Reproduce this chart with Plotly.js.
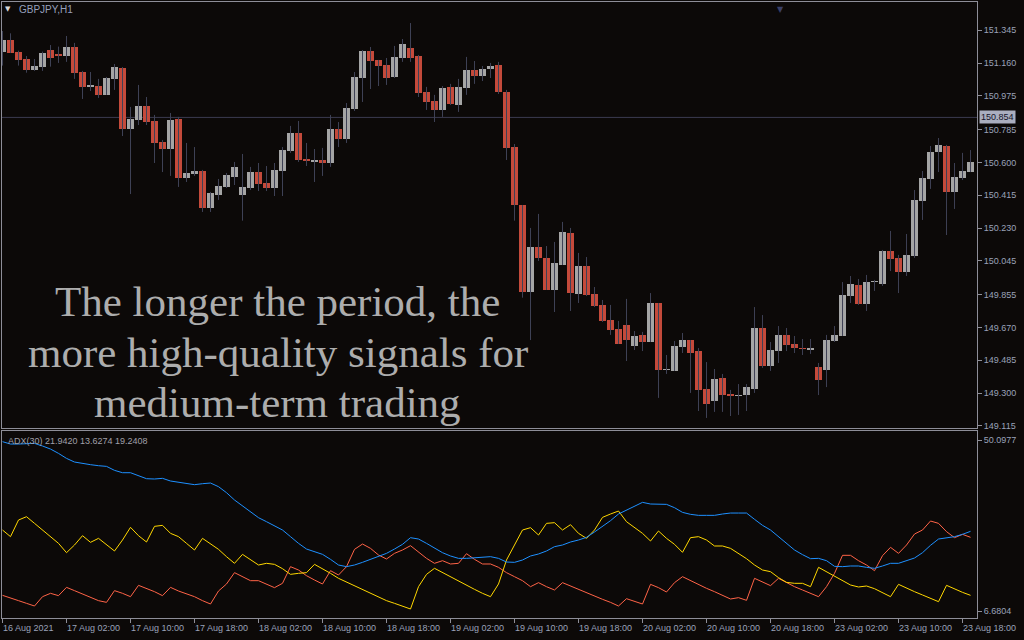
<!DOCTYPE html>
<html>
<head>
<meta charset="utf-8">
<script src="https://cdn.plot.ly/plotly-3.0.1.min.js"></script>
<style>
  html, body { margin: 0; padding: 0; background: #0c0908; }
  #chart { width: 1024px; height: 640px; }
</style>
</head>
<body>
<div id="chart"></div>
<script>
// ---------- Data (GBPJPY, H1, hourly bars from 16 Aug 2021 18:00) ----------
const symbolTitle = "GBPJPY,H1";

const open = [151.225,151.290,151.225,151.183,151.121,151.138,151.234,151.212,151.200,151.251,
151.110,151.028,151.031,150.981,151.071,151.133,150.789,150.840,150.918,150.834,
150.716,150.676,150.845,150.513,150.535,150.552,150.344,150.417,150.462,150.518,
150.417,150.456,150.546,150.484,150.456,150.552,150.665,150.766,150.620,150.603,
150.614,150.597,150.789,150.732,150.902,151.076,151.228,151.178,151.150,151.082,
151.189,151.245,151.200,150.997,150.947,150.896,151.026,150.924,151.020,151.121,
151.088,151.127,151.150,150.997,150.687,150.360,149.872,150.124,150.062,149.881,
150.022,150.203,149.859,150.017,149.859,149.797,149.712,149.661,149.684,149.566,
149.628,149.588,149.808,149.428,149.425,149.560,149.599,149.537,149.323,149.256,
149.385,149.295,149.284,149.289,149.323,149.667,149.453,149.537,149.628,149.577,
149.554,149.543,149.447,149.430,149.594,149.622,149.847,149.910,149.802,149.924,
149.915,150.101,150.062,149.983,150.073,150.383,150.507,150.659,150.693,150.434,
150.513,150.546];

const high = [151.341,151.328,151.230,151.200,151.183,151.225,151.262,151.253,151.313,151.274,
151.116,151.110,151.071,151.082,151.155,151.138,150.913,151.037,150.969,150.868,
150.727,150.879,150.857,150.710,150.687,150.558,150.434,150.507,150.541,150.603,
150.648,150.575,150.597,150.580,150.597,150.687,150.806,150.834,150.710,150.676,
150.682,150.868,150.828,150.935,151.110,151.234,151.251,151.178,151.189,151.257,
151.296,151.386,151.206,151.026,150.981,151.031,151.043,151.071,151.195,151.172,
151.144,151.161,151.167,151.009,150.704,150.360,150.231,150.310,150.129,150.152,
150.265,150.231,150.090,150.067,149.898,149.825,149.797,149.707,149.831,149.650,
149.645,149.864,149.808,149.515,149.594,149.639,149.599,149.554,149.475,149.436,
149.408,149.318,149.351,149.351,149.785,149.740,149.588,149.678,149.667,149.622,
149.605,149.605,149.470,149.628,149.678,149.926,149.960,149.943,149.966,149.938,
150.107,150.214,150.079,150.197,150.445,150.552,150.693,150.738,150.699,150.597,
150.654,150.670];

const low = [151.146,151.217,151.146,151.106,151.116,151.116,151.140,151.161,151.167,151.071,
150.958,151.003,150.964,150.981,151.009,150.749,150.422,150.811,150.811,150.597,
150.546,150.524,150.462,150.490,150.524,150.321,150.321,150.389,150.456,150.473,
150.272,150.445,150.439,150.439,150.411,150.411,150.654,150.603,150.580,150.490,
150.524,150.575,150.687,150.710,150.890,150.941,151.014,151.031,151.037,151.076,
151.167,151.167,150.969,150.896,150.828,150.857,150.924,150.885,150.981,151.043,
151.059,151.076,150.986,150.614,150.272,149.838,149.599,150.045,149.881,149.757,
150.022,149.763,149.808,149.847,149.785,149.701,149.628,149.577,149.481,149.543,
149.537,149.588,149.273,149.408,149.425,149.526,149.301,149.199,149.160,149.194,
149.194,149.171,149.177,149.199,149.301,149.442,149.425,149.470,149.537,149.526,
149.515,149.521,149.289,149.334,149.588,149.622,149.808,149.797,149.763,149.876,
149.904,149.988,149.864,149.960,150.062,150.276,150.451,150.546,150.191,150.338,
150.501,150.546];

const close = [151.290,151.219,151.178,151.121,151.144,151.217,151.189,151.200,151.251,151.105,
151.026,151.031,150.981,151.076,151.138,150.789,150.845,150.918,150.828,150.710,
150.676,150.840,150.513,150.541,150.552,150.344,150.428,150.468,150.530,150.575,
150.462,150.546,150.479,150.456,150.558,150.670,150.766,150.614,150.608,150.614,
150.597,150.789,150.732,150.907,151.082,151.228,151.172,151.144,151.076,151.195,
151.268,151.189,150.992,150.941,150.896,151.020,150.930,151.026,151.121,151.088,
151.127,151.144,150.997,150.682,150.360,149.872,150.124,150.063,149.881,150.034,
150.208,149.864,150.017,149.853,149.791,149.707,149.656,149.577,149.599,149.622,
149.588,149.808,149.430,149.431,149.566,149.599,149.526,149.318,149.239,149.380,
149.289,149.284,149.289,149.334,149.667,149.453,149.543,149.628,149.571,149.554,
149.549,149.554,149.374,149.599,149.628,149.853,149.915,149.802,149.926,149.926,
150.101,150.056,149.983,150.079,150.389,150.513,150.659,150.699,150.434,150.518,
150.552,150.603];

// ADX(30) indicator lines
const adx = [49.68,49.08,49.08,49.25,49.25,48.58,47.81,46.71,45.44,44.51,
44.09,43.84,43.58,43.41,42.40,41.80,41.80,40.96,40.28,40.20,
40.37,39.69,39.35,39.01,38.76,39.01,39.18,38.25,36.73,34.87,
33.34,31.90,30.38,29.36,28.35,27.25,25.56,23.86,22.42,21.75,
21.07,19.80,18.36,17.94,18.36,19.04,19.80,20.65,21.32,22.42,
23.61,25.30,24.96,23.86,22.59,21.49,20.65,20.05,20.05,20.22,
20.31,20.48,20.05,19.12,19.04,19.63,20.65,21.16,21.92,23.02,
23.44,24.20,24.71,25.39,26.74,28.09,29.62,31.31,32.33,33.17,
34.27,33.85,33.85,33.76,32.92,31.73,31.23,30.97,30.97,30.97,
31.31,31.56,31.56,31.56,29.96,28.43,27.25,25.56,23.69,22.17,
20.99,19.97,20.05,19.46,18.02,17.94,18.11,18.11,17.77,17.52,
18.11,18.79,18.79,19.38,20.14,21.49,23.36,24.96,25.30,25.56,
26.15,26.91];

const diPlus = [27.25,25.56,29.79,30.63,28.94,27.25,25.56,23.86,21.49,23.44,
25.81,24.12,25.13,23.44,21.92,24.71,27.93,25.81,24.20,28.18,
28.43,26.40,25.56,23.86,22.17,25.13,23.69,22.34,20.48,18.79,
21.07,19.63,18.36,18.79,18.53,17.43,15.99,16.25,16.42,18.53,
17.43,16.25,14.98,14.05,13.12,12.18,11.25,10.32,9.31,8.63,
7.95,7.19,12.86,15.99,17.52,16.42,15.40,14.30,13.20,12.18,
11.17,10.32,13.54,19.63,23.44,27.25,27.84,25.98,28.94,29.11,
27.25,28.60,26.40,25.13,27.25,30.46,31.31,32.07,29.36,27.84,
26.40,24.46,26.99,25.13,23.61,21.58,25.30,25.56,24.71,23.19,
23.19,22.59,21.32,19.97,18.36,17.09,16.67,15.15,13.96,13.71,
13.71,12.86,17.77,16.67,15.57,14.38,13.28,12.78,13.03,12.35,
11.34,10.32,13.45,12.44,11.59,10.75,9.90,9.05,13.20,12.27,
11.42,10.66];

const diMinus = [10.66,10.07,9.31,8.63,7.95,10.32,11.17,10.58,12.69,11.85,
11.00,10.07,9.31,8.88,11.85,11.17,10.32,13.20,12.44,11.59,
10.58,12.69,11.76,11.00,10.32,9.31,8.46,11.76,13.54,16.42,
15.40,14.38,14.38,13.54,12.61,13.71,17.94,17.09,15.65,14.55,
13.54,16.92,15.82,17.94,22.34,23.69,22.59,20.90,19.89,21.32,
22.17,23.27,21.75,20.05,18.79,19.46,18.62,18.79,21.24,19.80,
18.62,18.62,17.77,16.42,15.40,14.38,12.86,13.88,12.86,12.02,
13.88,13.03,12.02,11.17,10.32,9.65,8.88,7.95,9.81,9.22,
8.46,13.45,12.61,11.51,13.88,15.40,14.38,13.28,12.44,11.59,
10.58,9.73,10.07,9.39,14.98,14.13,13.12,14.98,13.88,12.86,
12.02,11.17,10.32,12.86,16.25,20.82,20.82,19.46,18.36,16.92,
20.73,22.85,21.32,23.44,26.23,27.25,29.53,28.94,26.83,25.30,
26.15,25.39];

const adxHeader = { period: 30, values: [21.9420, 13.6274, 19.2408] };

const priceTicks = [151.345,151.160,150.975,150.785,150.600,150.415,150.230,150.045,149.855,149.670,149.485,149.300,149.115];
const adxTicks = [50.0977, 6.6804];
const markerLevel = 150.854;

const timeTickIdx = [0,8,16,24,32,40,48,56,64,72,80,88,96,104,112,120];
const timeTickLabels = ["16 Aug 2021","17 Aug 02:00","17 Aug 10:00","17 Aug 18:00","18 Aug 02:00",
  "18 Aug 10:00","18 Aug 18:00","19 Aug 02:00","19 Aug 10:00","19 Aug 18:00","20 Aug 02:00",
  "20 Aug 10:00","20 Aug 18:00","23 Aug 02:00","23 Aug 10:00","23 Aug 18:00"];

const captionLines = ["The longer the period, the", "more high-quality signals for", "medium-term trading"];

// ---------- Build traces ----------
const N = open.length;
const idx = Array.from({length: N}, (_, i) => i);

const bullColor = '#a5a5a5';
const bearColor = '#c44a3b';
const wickColor = '#3e4155';
const frameColor = '#8e8e98';
const labelColor = '#9aa2b8';

const wx = [], wy = [];
for (let i = 0; i < N; i++) { wx.push(i, i, null); wy.push(high[i], low[i], null); }

const minBody = 0.006;
const bodyBase = idx.map(i => Math.min(open[i], close[i]));
const bodyH = idx.map(i => Math.max(Math.abs(close[i] - open[i]), minBody));
const bodyCol = idx.map(i => close[i] >= open[i] ? bullColor : bearColor);

const traces = [
  { type: 'scatter', mode: 'lines', x: wx, y: wy, xaxis: 'x2', yaxis: 'y',
    line: { color: wickColor, width: 1 }, hoverinfo: 'skip', connectgaps: false },
  { type: 'bar', x: idx, y: bodyH, base: bodyBase, xaxis: 'x2', yaxis: 'y',
    width: 0.875, marker: { color: bodyCol, line: { width: 0 } }, hoverinfo: 'skip' },
  { type: 'scatter', mode: 'lines', x: idx, y: diMinus, xaxis: 'x', yaxis: 'y2',
    line: { color: '#ff6347', width: 1 }, hoverinfo: 'skip' },
  { type: 'scatter', mode: 'lines', x: idx, y: diPlus, xaxis: 'x', yaxis: 'y2',
    line: { color: '#ffd700', width: 1 }, hoverinfo: 'skip' },
  { type: 'scatter', mode: 'lines', x: idx, y: adx, xaxis: 'x', yaxis: 'y2',
    line: { color: '#1e90ff', width: 1 }, hoverinfo: 'skip' }
];

// ---------- Annotations ----------
const annotations = [];
timeTickIdx.forEach((t, j) => {
  annotations.push({ x: t, xref: 'x', y: -0.0162, yref: 'paper', text: timeTickLabels[j],
    showarrow: false, xanchor: 'left', yanchor: 'middle', xshift: -2,
    font: { family: 'Liberation Sans, Arial, sans-serif', size: 9, color: labelColor } });
});

const captionY = [0.513, 0.4318, 0.3506];
captionLines.forEach((line, j) => {
  annotations.push({ x: 0.283, xref: 'paper', y: captionY[j], yref: 'paper', text: line,
    showarrow: false, xanchor: 'center', yanchor: 'middle',
    font: { family: 'Liberation Serif, serif', size: 43, color: '#adadad' } });
});

annotations.push({ x: 0.006, xref: 'paper', y: 0.9888, yref: 'paper', text: '▼', showarrow: false,
  xanchor: 'center', yanchor: 'middle', font: { family: 'DejaVu Sans', size: 7, color: '#d8d8d8' } });
annotations.push({ x: 0.0154, xref: 'paper', y: 0.9875, yref: 'paper', text: symbolTitle, showarrow: false,
  xanchor: 'left', yanchor: 'middle', font: { family: 'Liberation Sans, Arial, sans-serif', size: 10, color: '#97a0bd' } });
annotations.push({ x: 0.004, xref: 'paper', y: 0.2873, yref: 'paper',
  text: 'ADX(' + adxHeader.period + ') ' + adxHeader.values.map(v => v.toFixed(4)).join(' '),
  showarrow: false, xanchor: 'left', yanchor: 'middle',
  font: { family: 'Liberation Sans, Arial, sans-serif', size: 9, color: '#a0a0a8' } });
annotations.push({ x: 1, xref: 'paper', y: markerLevel, yref: 'y', text: markerLevel.toFixed(3),
  showarrow: false, xanchor: 'left', yanchor: 'middle', xshift: 2,
  bgcolor: '#aaaebf', borderpad: 1,
  font: { family: 'Liberation Sans, Arial, sans-serif', size: 9, color: '#14142a' } });
annotations.push({ x: 0.7985, xref: 'paper', y: 0.9985, yref: 'paper', text: '▼', showarrow: false,
  xanchor: 'center', yanchor: 'top', font: { family: 'DejaVu Sans', size: 8, color: '#3a4068' } });

const axisFont = { family: 'Liberation Sans, Arial, sans-serif', size: 9, color: labelColor };

const layout = {
  width: 1024, height: 640,
  margin: { l: 2, r: 47, t: 2, b: 22, pad: 0 },
  paper_bgcolor: '#0c0908', plot_bgcolor: '#0c0908',
  showlegend: false, bargap: 0,
  xaxis: { domain: [0, 1], anchor: 'y2', range: [-0.0625, 121.81], showline: true, mirror: true,
    linecolor: frameColor, linewidth: 1, showgrid: false, zeroline: false,
    tickvals: timeTickIdx, ticks: 'outside', ticklen: 4, tickcolor: frameColor, showticklabels: false },
  xaxis2: { matches: 'x', anchor: 'y', showline: true, mirror: true, linecolor: frameColor, linewidth: 1,
    showgrid: false, zeroline: false, showticklabels: false, ticks: '' },
  yaxis: { domain: [0.3084, 1], range: [149.1032, 151.5045], side: 'right', anchor: 'x2',
    showline: true, mirror: true, linecolor: frameColor, linewidth: 1,
    showgrid: false, zeroline: false, tickvals: priceTicks, tickformat: '.3f',
    ticks: 'outside', ticklen: 4, tickcolor: frameColor, tickfont: axisFont },
  yaxis2: { domain: [0, 0.3028], range: [4.905, 52.27], side: 'right', anchor: 'x',
    showline: true, mirror: true, linecolor: frameColor, linewidth: 1,
    showgrid: false, zeroline: false, tickvals: adxTicks, ticktext: adxTicks.map(v => v.toFixed(4)),
    ticks: 'outside', ticklen: 4, tickcolor: frameColor, tickfont: axisFont },
  shapes: [
    { type: 'line', xref: 'paper', x0: 0, x1: 1, yref: 'y', y0: markerLevel, y1: markerLevel,
      line: { color: '#3b3b50', width: 1 }, layer: 'below' }
  ],
  annotations: annotations
};

Plotly.newPlot('chart', traces, layout, { displayModeBar: false, staticPlot: true });
</script>
</body>
</html>
